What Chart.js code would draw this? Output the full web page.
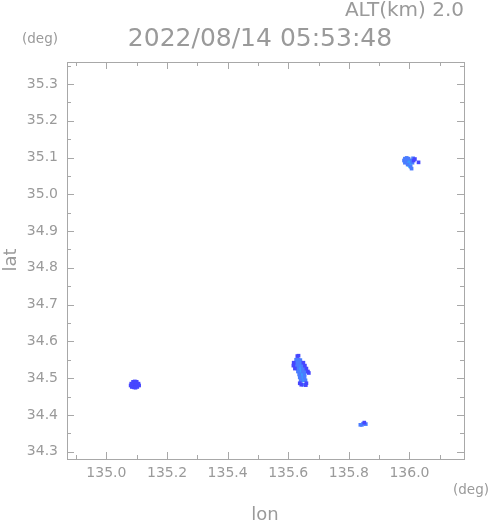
<!DOCTYPE html>
<html>
<head>
<meta charset="utf-8">
<script src="https://cdn.jsdelivr.net/npm/chart.js@4/dist/chart.umd.min.js"></script>
<style>
  body { margin: 0; background: #fff; }
  #wrap { width: 491px; height: 521px; }
</style>
</head>
<body>
<div id="wrap"><canvas id="radar" width="491" height="521"></canvas></div>
<script>
// --- data (lon, lat) ---
const xTicks = [135.0, 135.2, 135.4, 135.6, 135.8, 136.0];
const xMinor = [134.9, 135.1, 135.3, 135.5, 135.7, 135.9, 136.1];
const yTicks = [34.3, 34.4, 34.5, 34.6, 34.7, 34.8, 34.9, 35.0, 35.1, 35.2, 35.3];
const yMinor = [34.35, 34.45, 34.55, 34.65, 34.75, 34.85, 34.95, 35.05, 35.15, 35.25, 35.35];

const darkPts = [
  // cluster west
  [135.088, 34.490], [135.094, 34.491], [135.100, 34.490],
  [135.082, 34.485], [135.088, 34.485], [135.094, 34.485], [135.100, 34.485], [135.106, 34.485],
  [135.080, 34.480], [135.088, 34.480], [135.094, 34.480], [135.100, 34.480], [135.108, 34.480],
  [135.084, 34.476], [135.090, 34.475], [135.096, 34.474], [135.102, 34.476],
  // cluster center
  [135.630, 34.560], [135.634, 34.561],
  [135.618, 34.542], [135.650, 34.542], [135.617, 34.534], [135.622, 34.526],
  [135.655, 34.534], [135.660, 34.526], [135.665, 34.518], [135.668, 34.514],
  [135.638, 34.486], [135.660, 34.486], [135.643, 34.482], [135.658, 34.481],
  // cluster south east
  [135.851, 34.379],
  // cluster north east
  [136.018, 35.096], [136.014, 35.092], [136.030, 35.087]
];
const midPts = [
  [135.626, 34.550], [135.634, 34.550], [135.640, 34.549],
  [135.626, 34.542], [135.634, 34.542], [135.642, 34.542],
  [135.624, 34.534], [135.632, 34.534], [135.646, 34.534],
  [135.630, 34.526], [135.648, 34.526], [135.654, 34.526],
  [135.632, 34.518], [135.648, 34.518], [135.656, 34.518],
  [135.636, 34.510], [135.654, 34.510], [135.638, 34.502], [135.654, 34.502],
  [135.641, 34.494], [135.657, 34.494], [135.650, 34.482],
  [135.843, 34.373], [135.847, 34.376], [135.838, 34.373], [135.856, 34.375],
  [135.985, 35.097], [135.991, 35.099], [135.997, 35.097], [136.012, 35.098],
  [135.982, 35.092], [135.988, 35.093], [136.008, 35.092],
  [135.985, 35.086], [136.010, 35.086], [135.994, 35.081],
  [136.004, 35.075], [136.007, 35.070]
];
const lightPts = [
  [135.640, 34.534], [135.638, 34.526], [135.640, 34.518],
  [135.644, 34.510], [135.646, 34.502], [135.648, 34.494],
  [135.994, 35.092], [136.002, 35.092], [135.991, 35.087], [136.004, 35.086]
];
const cyanPts = [[135.998, 35.085], [135.999, 35.080], [136.002, 35.077]];
const hollowPts = [[135.652, 34.488]];

const GREY = "#9a9a9a";
const FONT = '"DejaVu Sans", sans-serif';

function toXY(arr) {
  return arr.map((p) => ({ x: p[0], y: p[1] }));
}

function dots(pts, color, extra) {
  return Object.assign({
    data: toXY(pts),
    backgroundColor: color,
    borderWidth: 0,
    pointStyle: "rect",
    pointRadius: 2.6,
    pointHoverRadius: 2.6,
  }, extra || {});
}

// frame, inner ticks and loose texts
const framePlugin = {
  id: "frame",
  afterDraw(chart) {
    const { ctx, chartArea: a, scales } = chart;
    ctx.save();
    ctx.strokeStyle = "#a8a8a8";
    ctx.lineWidth = 1;
    ctx.strokeRect(a.left + 0.5, a.top + 0.5, a.right - a.left, a.bottom - a.top);
    ctx.beginPath();
    const tickX = (v, len) => {
      const px = Math.round(scales.x.getPixelForValue(v)) + 0.5;
      ctx.moveTo(px, a.bottom); ctx.lineTo(px, a.bottom - len);
      ctx.moveTo(px, a.top); ctx.lineTo(px, a.top + len);
    };
    const tickY = (v, len) => {
      const py = Math.round(scales.y.getPixelForValue(v)) + 0.5;
      ctx.moveTo(a.left, py); ctx.lineTo(a.left + len, py);
      ctx.moveTo(a.right, py); ctx.lineTo(a.right - len, py);
    };
    xTicks.forEach((v) => tickX(v, 7));
    xMinor.forEach((v) => tickX(v, 4));
    yTicks.forEach((v) => tickY(v, 7));
    yMinor.forEach((v) => tickY(v, 4));
    ctx.stroke();

    ctx.fillStyle = GREY;
    ctx.textBaseline = "alphabetic";
    ctx.font = "25px " + FONT;
    ctx.textAlign = "center";
    ctx.fillText("2022/08/14 05:53:48", 260, 46);
    ctx.font = "20px " + FONT;
    ctx.textAlign = "right";
    ctx.fillText("ALT(km) 2.0", 464, 16);
    ctx.font = "13.5px " + FONT;
    ctx.textAlign = "center";
    ctx.fillText("(deg)", 40, 43);
    ctx.fillText("(deg)", 471, 494);
    ctx.font = "18px " + FONT;
    ctx.fillText("lon", 265, 520);
    ctx.translate(16, 260);
    ctx.rotate(-Math.PI / 2);
    ctx.fillText("lat", 0, 0);
    ctx.restore();
  },
};

new Chart(document.getElementById("radar"), {
  type: "scatter",
  data: {
    datasets: [
      dots(darkPts, "#4646ff"),
      dots(midPts, "#4a7cff"),
      dots(lightPts, "#3a9cff"),
      dots(cyanPts, "#2cc8ff"),
      dots(hollowPts, "#ffffff", { borderColor: "#4a6cff", borderWidth: 1.2, pointRadius: 3 }),
    ],
  },
  options: {
    responsive: false,
    animation: false,
    layout: { padding: { left: 0, top: 62, right: 27, bottom: 0 } },
    plugins: { legend: { display: false }, tooltip: { enabled: false } },
    scales: {
      x: {
        type: "linear",
        min: 134.87,
        max: 136.18,
        grid: { display: false, drawTicks: false },
        border: { display: false },
        afterBuildTicks: (s) => { s.ticks = xTicks.map((v) => ({ value: v })); },
        afterFit: (s) => { s.height = 62; },
        ticks: {
          color: GREY,
          padding: 6,
          font: { family: FONT, size: 14 },
          callback: (v) => Number(v).toFixed(1),
        },
      },
      y: {
        type: "linear",
        min: 34.28,
        max: 35.36,
        grid: { display: false, drawTicks: false },
        border: { display: false },
        afterBuildTicks: (s) => { s.ticks = yTicks.map((v) => ({ value: v })); },
        afterFit: (s) => { s.width = 67; },
        ticks: {
          color: GREY,
          padding: 9,
          font: { family: FONT, size: 14 },
          callback: (v) => Number(v).toFixed(1),
        },
      },
    },
  },
  plugins: [framePlugin],
});
</script>
</body>
</html>
